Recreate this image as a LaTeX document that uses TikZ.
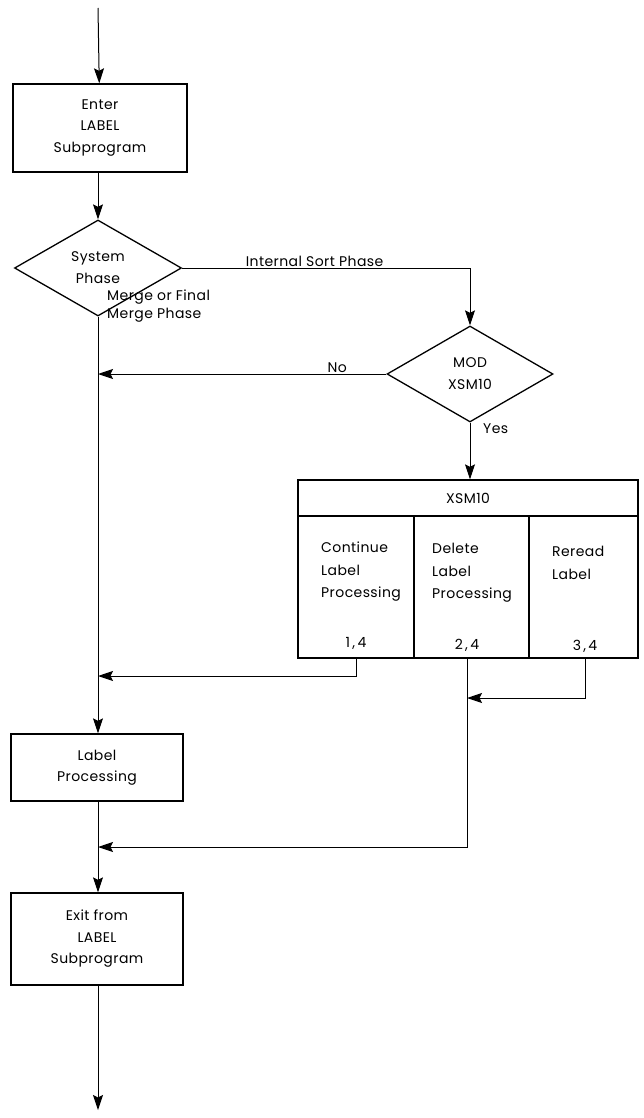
\documentclass[tikz,border=0pt]{standalone}
\usepackage{fontspec}
\setmainfont{Poppins}[LetterSpace=3]
\usetikzlibrary{arrows.meta,shapes.geometric,positioning}

\tikzset{
  flow/.style={line width=1pt, -{Stealth[length=15pt,width=10pt,inset=2.5pt]}},
  stepbox/.style={draw, line width=1.3pt, align=center, inner sep=0pt,
    font=\fontsize{14}{21.5}\selectfont},
  decide/.style={draw, diamond, line width=1.3pt, align=center, inner sep=0pt,
    font=\fontsize{14}{22}\selectfont},
  coltext/.style={anchor=north west, align=left, inner sep=0pt,
    font=\fontsize{14}{22.5}\selectfont},
  note/.style={inner sep=1pt, font=\fontsize{14}{18}\selectfont}
}

\begin{document}
\begin{tikzpicture}[x=1pt,y=-1pt]
\useasboundingbox (0,0) rectangle (643,1118);

\coordinate (start) at (98,8);
\node[stepbox, minimum width=174pt, minimum height=88pt] (enter) at (100,128) {Enter\\LABEL\\Subprogram};
\node[decide, minimum width=167pt, minimum height=96pt] (sys) at (98,268) {System\\Phase};
\node[decide, minimum width=166pt, minimum height=96pt] (mod) at (470,374) {MOD\\XSM10};

% XSM10 table
\node[stepbox, minimum width=340pt, minimum height=36pt] (xsm) at (468,498) {XSM10};
\node[draw, line width=1.3pt, minimum width=116pt, minimum height=142pt, inner sep=0pt] (c1) at (356,587) {};
\node[draw, line width=1.3pt, minimum width=115pt, minimum height=142pt, inner sep=0pt] (c2) at (471.5,587) {};
\node[draw, line width=1.3pt, minimum width=109pt, minimum height=142pt, inner sep=0pt] (c3) at (583.5,587) {};
\node[coltext] (t1) at (321,542) {Continue\\Label\\Processing};
\node[coltext] (t2) at (432,543) {Delete\\Label\\Processing};
\node[coltext] (t3) at (552,546) {Reread\\Label};
\node[note] (n1) at (356,643) {1\,,\,4};
\node[note] (n2) at (467,645) {2\,,\,4};
\node[note] (n3) at (585,646) {3\,,\,4};

\node[stepbox, minimum width=172pt, minimum height=67pt] (proc) at (97,767.5) {Label\\Processing};
\node[stepbox, minimum width=172pt, minimum height=92pt] (exit) at (97,939) {Exit from\\LABEL\\Subprogram};
\coordinate (stop) at (98,1110);

\coordinate (j1) at (98,676);
\coordinate (j2) at (98,847);
\coordinate (j3) at (467,698);

\draw[flow] (start) -- (enter);
\draw[flow] (enter.south -| start) -- (sys);
\draw[flow] (sys.east) -| (mod.north) node[note, above, pos=0.23] {Internal Sort Phase};
\draw[flow] (sys.south) -- (proc.north -| sys.south);
\node[note, anchor=north west, align=left] (mrg) at (106,289) {Merge or Final\\Merge Phase};
\draw[flow] (mod.west) -- (mod.west -| sys.south) node[note, above, pos=0.17] {No};
\draw[flow] (mod.south) -- (xsm.north -| mod.south);
\node[note, anchor=west] (yes) at (482,429) {Yes};
\draw[flow] (n1 |- c1.south) |- (j1);
\draw[flow] (n3 |- c3.south) |- (j3);
\draw[flow] (n2 |- c2.south) |- (j2);
\draw[flow] (proc.south -| start) -- (exit.north -| start);
\draw[flow] (exit.south -| start) -- (stop);
\end{tikzpicture}
\end{document}
